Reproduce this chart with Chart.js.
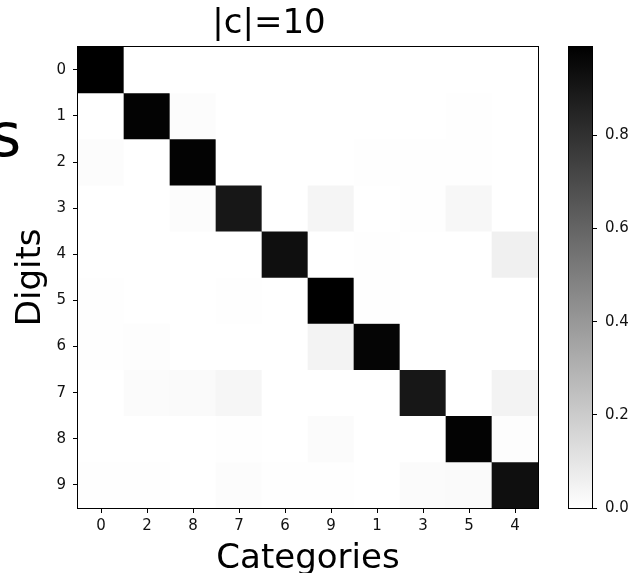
<!DOCTYPE html>
<html>
<head>
<meta charset="utf-8">
<script src="https://cdn.jsdelivr.net/npm/chart.js@4.4.1/dist/chart.umd.min.js"></script>
<style>
  html, body { margin: 0; padding: 0; background: #fff; overflow: hidden; }
  body { width: 631px; height: 573px; position: relative; font-family: "DejaVu Sans", sans-serif; }
  #mainWrap { position: absolute; left: 0; top: 0; width: 548px; height: 580px; }
  #barWrap { position: absolute; left: 548px; top: 0; width: 83px; height: 573px; }
  #stray { position: absolute; left: -10px; top: 105px; font-size: 60px; line-height: 60px; color: #000; }
</style>
</head>
<body>
<span id="stray">s</span>
<div id="mainWrap"><canvas id="heat"></canvas></div>
<div id="barWrap"><canvas id="cbar"></canvas></div>
<script>
// rows = true digit, columns = assigned category
const digits = [0, 1, 2, 3, 4, 5, 6, 7, 8, 9];
const categories = ['0', '2', '8', '7', '6', '9', '1', '3', '5', '4'];

const row0 = [0.99, 0, 0, 0, 0, 0, 0, 0, 0, 0];
const row1 = [0, 0.98, 0.012, 0, 0, 0, 0, 0, 0.005, 0];
const row2 = [0.012, 0, 0.98, 0, 0, 0, 0.004, 0.004, 0.004, 0];
const row3 = [0, 0, 0.012, 0.90, 0, 0.04, 0, 0.005, 0.03, 0];
const row4 = [0, 0, 0, 0, 0.93, 0, 0.005, 0, 0, 0.06];
const row5 = [0.005, 0, 0, 0.005, 0, 0.99, 0.005, 0, 0, 0];
const row6 = [0.004, 0.006, 0, 0, 0, 0.045, 0.97, 0, 0, 0];
const row7 = [0, 0.015, 0.02, 0.035, 0, 0, 0, 0.90, 0, 0.045];
const row8 = [0, 0, 0, 0.005, 0, 0.015, 0, 0, 0.98, 0.008];
const row9 = [0.005, 0.005, 0, 0.012, 0.004, 0.005, 0, 0.015, 0.02, 0.93];
const rows = [row0, row1, row2, row3, row4, row5, row6, row7, row8, row9];

const vmax = 0.99;
const colorbarTicks = [0.0, 0.2, 0.4, 0.6, 0.8];

function grey(v) {
  const g = Math.round(255 * (1 - Math.min(v, vmax) / vmax));
  return `rgb(${g},${g},${g})`;
}

const tickFont = { family: 'DejaVu Sans', size: 15 };
const labelFont = { family: 'DejaVu Sans', size: 34, weight: 'normal' };

const frame = {
  id: 'frame',
  afterDatasetsDraw(c) {
    const a = c.chartArea;
    const ctx = c.ctx;
    ctx.save();
    ctx.strokeStyle = '#000';
    ctx.lineWidth = 1;
    ctx.strokeRect(Math.round(a.left) - 0.5, Math.round(a.top) - 0.5, Math.round(a.right - a.left) + 1, Math.round(a.bottom - a.top) + 1);
    ctx.restore();
  }
};

new Chart(document.getElementById('heat'), {
  type: 'bar',
  data: {
    labels: categories,
    datasets: rows.map((r, i) => ({
      label: 'digit ' + digits[i],
      data: r.map(() => [digits[i] - 0.5, digits[i] + 0.5]),
      backgroundColor: r.map(grey),
      borderWidth: 0,
      grouped: false,
      barPercentage: 1,
      categoryPercentage: 1
    }))
  },
  options: {
    responsive: true,
    maintainAspectRatio: false,
    animation: false,
    layout: { padding: { left: 0, right: 10, top: 0, bottom: 0 } },
    plugins: {
      legend: { display: false },
      tooltip: { enabled: false },
      title: {
        display: true,
        text: '|c|=10',
        color: '#000',
        font: labelFont,
        padding: { top: 4, bottom: 2 }
      }
    },
    scales: {
      x: {
        offset: true,
        grid: { offset: false, drawOnChartArea: false, drawTicks: true, tickLength: 5, color: '#000' },
        border: { display: false },
        ticks: { color: '#111', font: tickFont, padding: 4, maxRotation: 0 },
        title: { display: true, text: 'Categories', color: '#000', font: labelFont, padding: { top: 5, bottom: 0 } },
        afterFit(scale) { scale.height = 72; }
      },
      y: {
        type: 'linear',
        min: -0.5,
        max: 9.5,
        reverse: true,
        grid: { drawOnChartArea: false, drawTicks: true, tickLength: 5, color: '#000' },
        border: { display: false },
        afterBuildTicks(scale) { scale.ticks = digits.map((d) => ({ value: d })); },
        ticks: { color: '#111', font: tickFont, padding: 7, callback: (v) => String(v) },
        title: { display: true, text: 'Digits', color: '#000', font: labelFont, padding: { top: 11, bottom: 0 } },
        afterFit(scale) { scale.width = 78; }
      }
    }
  },
  plugins: [frame]
});

new Chart(document.getElementById('cbar'), {
  type: 'bar',
  data: {
    labels: ['scale'],
    datasets: [{
      data: [[0, vmax]],
      backgroundColor(ctx) {
        const a = ctx.chart.chartArea;
        if (!a) return '#888';
        const g = ctx.chart.ctx.createLinearGradient(0, a.bottom, 0, a.top);
        g.addColorStop(0, '#fff');
        g.addColorStop(1, '#000');
        return g;
      },
      borderWidth: 0,
      barPercentage: 1,
      categoryPercentage: 1
    }]
  },
  options: {
    responsive: true,
    maintainAspectRatio: false,
    animation: false,
    layout: { padding: { left: 21, right: 0, top: 47, bottom: 65 } },
    plugins: { legend: { display: false }, tooltip: { enabled: false } },
    scales: {
      x: { display: false },
      y: {
        position: 'right',
        min: 0,
        max: vmax,
        grid: { drawOnChartArea: false, drawTicks: true, tickLength: 5, color: '#000' },
        border: { display: false },
        afterBuildTicks(scale) { scale.ticks = colorbarTicks.map((t) => ({ value: t })); },
        ticks: { color: '#111', font: tickFont, padding: 8, callback: (v) => v.toFixed(1) },
        afterFit(scale) { scale.width = 39; }
      }
    }
  },
  plugins: [frame]
});
</script>
</body>
</html>
